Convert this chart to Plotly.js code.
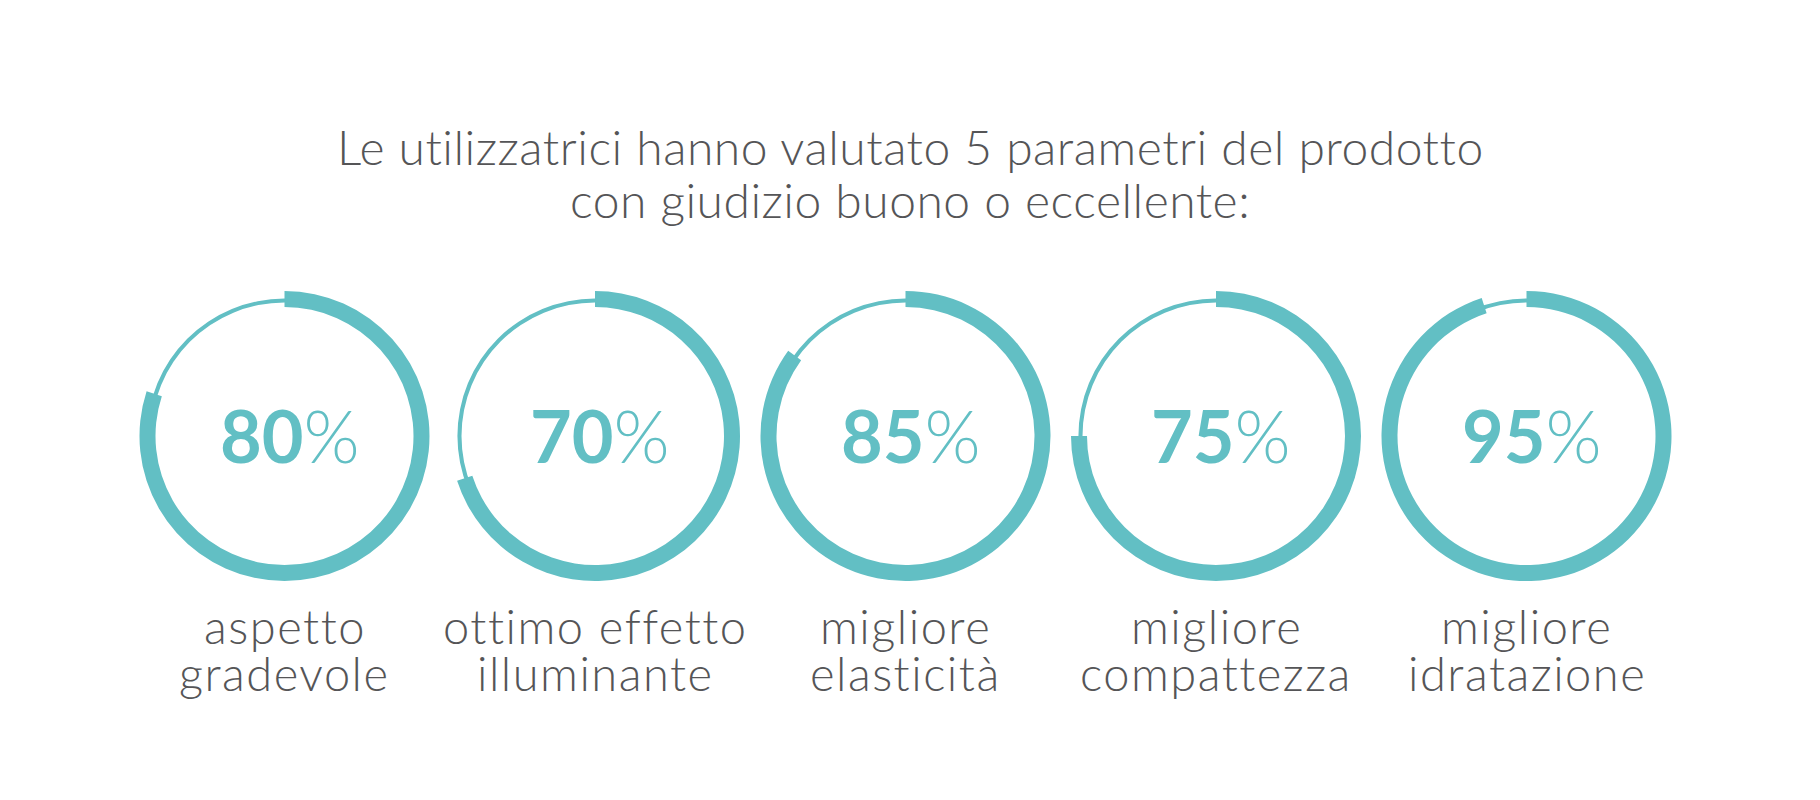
<!DOCTYPE html>
<html>
<head>
<meta charset="utf-8">
<script src="https://cdn.plot.ly/plotly-3.0.1.min.js"></script>
<style>html,body{margin:0;padding:0;background:#fff;}#chart{width:1820px;height:800px;}</style>
</head>
<body>
<div id="chart"></div>
<script>
// ---- data ----
const titleLines = ["Le utilizzatrici hanno valutato 5 parametri del prodotto", "con giudizio buono o eccellente:"];
const categories = ["aspetto<br>gradevole", "ottimo effetto<br>illuminante", "migliore<br>elasticità", "migliore<br>compattezza", "migliore<br>idratazione"];
const values = [80, 70, 85, 75, 95];

// ---- style ----
const W = 1820, H = 800;
const teal = "#62bfc4";
const grey = "#555557";
const font = "Lato, 'Open Sans', sans-serif";
const cx0 = 284.5, dx = 310.5, cy = 436;
const rThick = 145, rThickIn = 129;
const rThin = 137.5, rThinIn = 133.5;

function dom(cx, cy, r) {
  return { x: [(cx - r) / W, (cx + r) / W], y: [1 - (cy + r) / H, 1 - (cy - r) / H] };
}

const traces = [];
const annotations = [];
values.forEach((v, i) => {
  const cx = cx0 + i * dx;
  traces.push({
    type: "pie", values: [1], labels: ["all"], sort: false,
    marker: { colors: [teal], line: { width: 0 } },
    hole: rThinIn / rThin, textinfo: "none", hoverinfo: "skip",
    domain: dom(cx, cy, rThin), showlegend: false
  });
  traces.push({
    type: "pie", values: [v, 100 - v], labels: ["si", "no"], sort: false,
    direction: "clockwise", rotation: 0,
    marker: { colors: [teal, "rgba(0,0,0,0)"], line: { width: 0 } },
    hole: rThickIn / rThick, textinfo: "none", hoverinfo: "skip",
    domain: dom(cx, cy, rThick), showlegend: false
  });
  annotations.push({
    xref: "paper", yref: "paper", x: (cx + 5) / W, y: 1 - (cy - 1) / H,
    xanchor: "center", yanchor: "middle", showarrow: false,
    text: '<span style="font-weight:700">' + v + '</span><span style="font-weight:300">%</span>',
    font: { family: font, size: 72, color: teal }
  });
  categories[i].split("<br>").forEach((line, j) => {
    annotations.push({
      xref: "paper", yref: "paper", x: cx / W, y: 1 - (626 + j * 47) / H,
      xanchor: "center", yanchor: "middle", showarrow: false,
      text: '<span style="font-weight:300;letter-spacing:1.5px">' + line + '</span>',
      font: { family: font, size: 47, color: grey }
    });
  });
});
titleLines.forEach((line, j) => {
  annotations.push({
    xref: "paper", yref: "paper", x: 910 / W, y: 1 - (147 + j * 52) / H,
    xanchor: "center", yanchor: "middle", showarrow: false,
    text: '<span style="font-weight:300;letter-spacing:0.5px">' + line + '</span>',
    font: { family: font, size: 48, color: grey }
  });
});

Plotly.newPlot("chart", traces, {
  width: W, height: H, margin: { l: 0, r: 0, t: 0, b: 0 },
  paper_bgcolor: "#ffffff", plot_bgcolor: "#ffffff",
  annotations: annotations
}, { staticPlot: true, displayModeBar: false });
</script>
</body>
</html>
